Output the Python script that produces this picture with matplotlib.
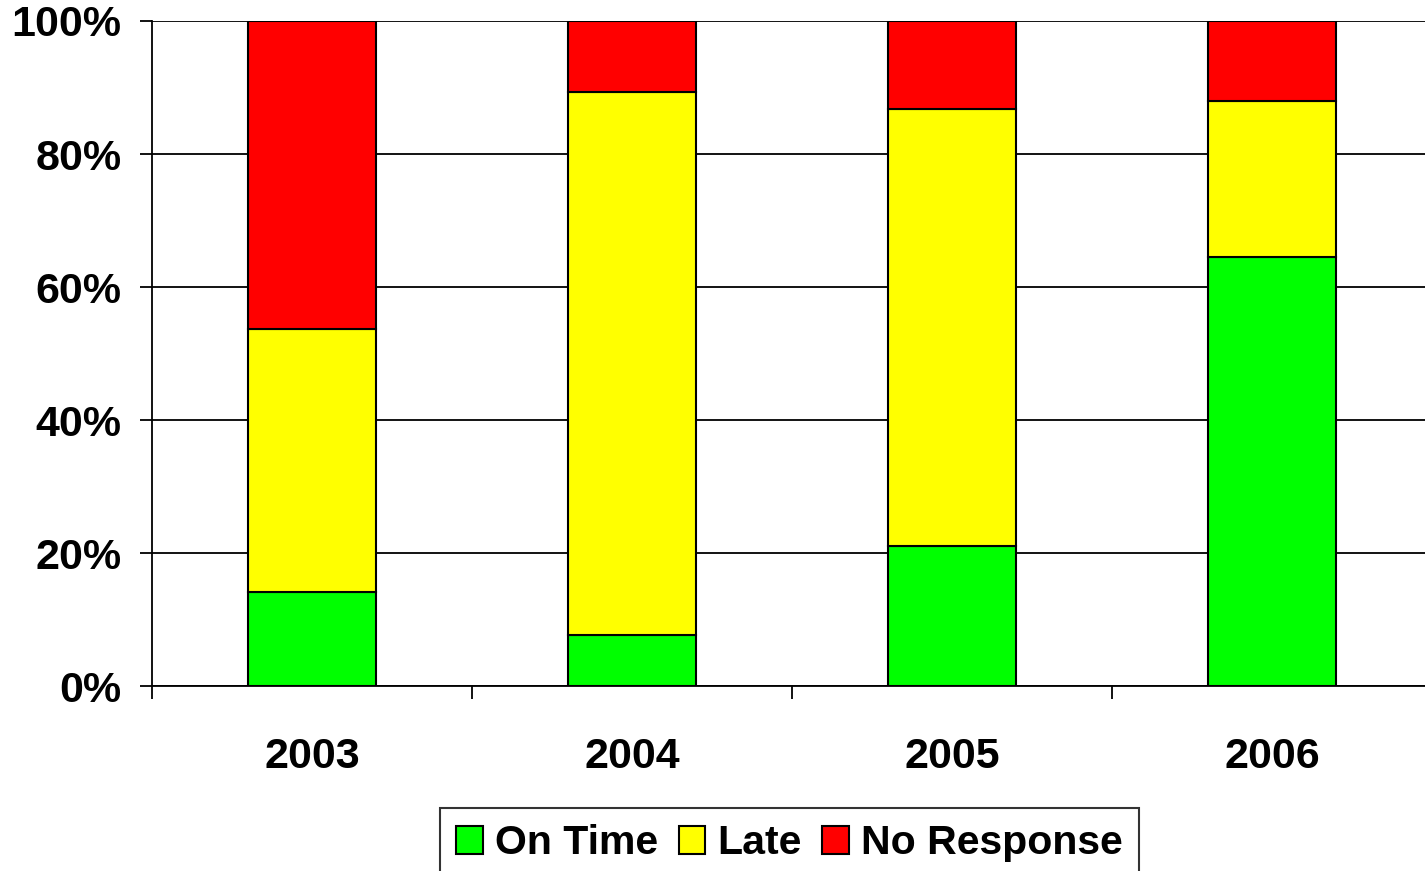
import numpy as np
import matplotlib
matplotlib.use("Agg")
import matplotlib.pyplot as plt
from matplotlib.ticker import FixedLocator, PercentFormatter

# ── data (percent of responses per year) ─────────────────────────────
years = ["2003", "2004", "2005", "2006"]
on_time = [14.1, 7.7, 21.1, 64.5]
late = [39.6, 81.6, 65.7, 23.5]
no_response = [46.3, 10.7, 13.2, 12.0]

series_names = ["On Time", "Late", "No Response"]
series_colors = ["#00FF00", "#FFFF00", "#FF0000"]

plt.rcParams["font.family"] = ["Liberation Sans", "DejaVu Sans"]
plt.rcParams["font.weight"] = "bold"

fig = plt.figure(figsize=(14.25, 8.71), dpi=100)
ax = fig.add_axes([152 / 1425, 1 - 686 / 871, 1280 / 1425, 665 / 871])

x = np.arange(len(years))
bottom = np.zeros(len(years))
for vals, name, col in zip([on_time, late, no_response], series_names, series_colors):
    ax.bar(x, vals, width=0.4, bottom=bottom, color=col, edgecolor="black",
           linewidth=1.5, label=name, zorder=3)
    bottom += np.array(vals)

ax.set_xlim(-0.5, 3.5)
ax.set_ylim(0, 100)

# y axis
ax.set_yticks([0, 20, 40, 60, 80, 100])
ax.yaxis.set_major_formatter(PercentFormatter(decimals=0))
ax.grid(axis="y", color="black", linewidth=1.3, zorder=0)
ax.tick_params(axis="y", direction="out", length=9, width=1.3, pad=13,
               labelsize=31)

# x axis: labels at centres, tick marks between categories
ax.set_xticks(x)
ax.set_xticklabels(years)
ax.tick_params(axis="x", which="major", length=0, pad=37, labelsize=31)
ax.xaxis.set_minor_locator(FixedLocator([-0.5, 0.5, 1.5, 2.5]))
ax.tick_params(axis="x", which="minor", direction="out", length=9, width=1.3)

for lab in ax.get_xticklabels() + ax.get_yticklabels():
    lab.set_fontweight("bold")

ax.spines["top"].set_visible(False)
ax.spines["right"].set_visible(False)
ax.spines["left"].set_linewidth(1.3)
ax.spines["bottom"].set_linewidth(1.3)

leg = fig.legend(loc="upper center", bbox_to_anchor=(789.5 / 1425, 1 - 808 / 871),
                 ncol=3, frameon=True, fancybox=False, edgecolor="black",
                 prop={"size": 29.5, "weight": "bold"},
                 handlelength=0.65, handleheight=0.65, handletextpad=0.3,
                 columnspacing=0.5, borderpad=0.4, borderaxespad=0)
leg.get_frame().set_linewidth(1.5)

fig.savefig("out.png", dpi=100)
